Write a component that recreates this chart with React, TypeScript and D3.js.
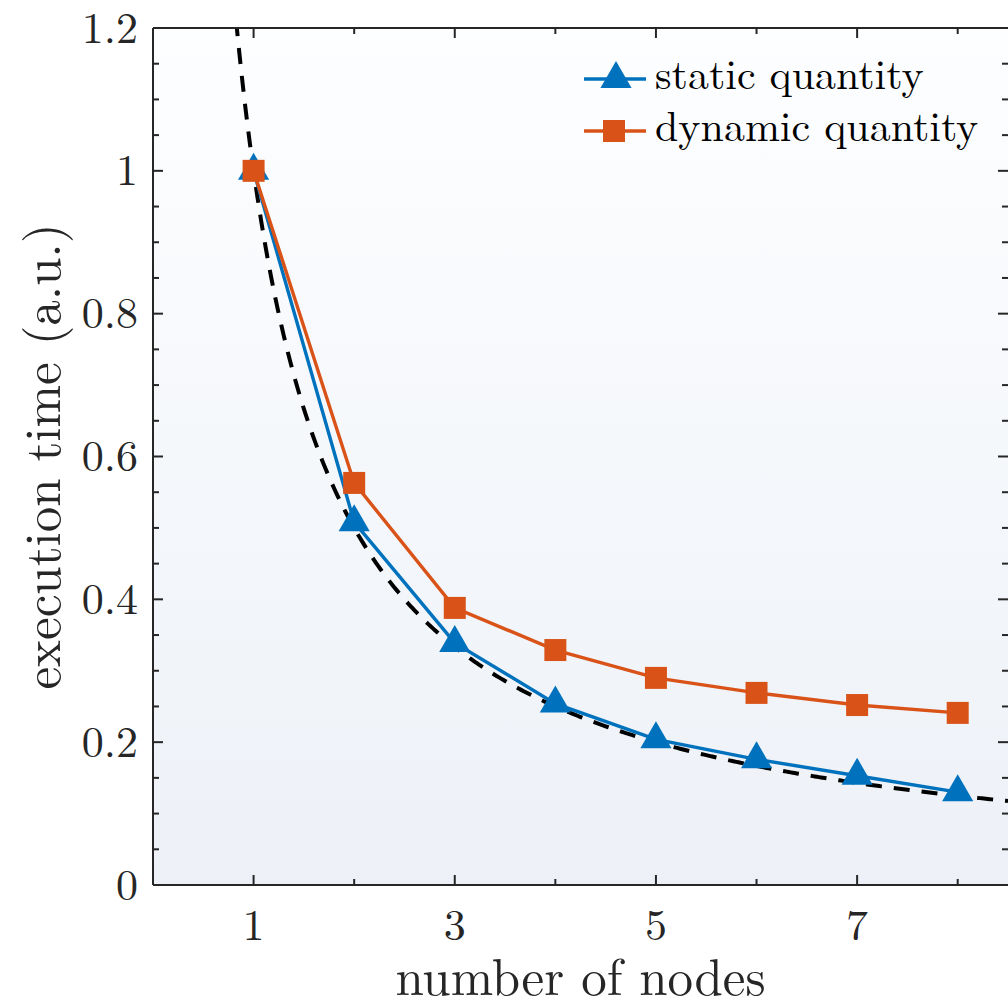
import React from "react";
import * as d3 from "d3";

const nodes = [1, 2, 3, 4, 5, 6, 7, 8];
const staticQuantity = [1.0, 0.508, 0.339, 0.254, 0.204, 0.176, 0.153, 0.13];
const dynamicQuantity = [1.0, 0.563, 0.388, 0.329, 0.29, 0.269, 0.252, 0.241];
const xTickLabels = [1, 3, 5, 7];
const xMinorTicks = [2, 4, 6, 8];
const yTickLabels = [0, 0.2, 0.4, 0.6, 0.8, 1, 1.2];
const seriesNames = ["static quantity", "dynamic quantity"];

const W = 1008;
const H = 1007;
const L = 153;
const T = 28;
const R = 1008;
const B = 885;
const FONT = "'Latin Modern Roman', 'CMU Serif', 'DejaVu Serif', serif";

export default function App() {
  const x = d3.scaleLinear().domain([0, 8.5]).range([L, R]);
  const y = d3.scaleLinear().domain([0, 1.2]).range([B, T]);
  const line = d3
    .line<[number, number]>()
    .x((d) => x(d[0]))
    .y((d) => y(d[1]));
  const sData = nodes.map((n, i) => [n, staticQuantity[i]] as [number, number]);
  const dData = nodes.map((n, i) => [n, dynamicQuantity[i]] as [number, number]);
  const ideal: [number, number][] = d3
    .range(0.8, 8.51, 0.02)
    .map((v) => [v, 1 / v] as [number, number]);
  const yMinor = d3.range(0, 1.2001, 0.05);
  const tri = d3.symbol().type(d3.symbolTriangle).size(420)();
  const ax = "#262626";
  const blue = "#0072BD";
  const orange = "#D95319";

  return (
    <svg
      width={W}
      height={H}
      style={{ position: "absolute", left: 0, top: 0, background: "#fff" }}
    >
      <defs>
        <linearGradient id="bg" x1="0" y1="0" x2="0" y2="1">
          <stop offset="0" stopColor="#fdfeff" />
          <stop offset="1" stopColor="#edf1f7" />
        </linearGradient>
        <clipPath id="clip">
          <rect x={L} y={T} width={R - L} height={B - T} />
        </clipPath>
      </defs>
      <rect x={L} y={T} width={R - L} height={B - T} fill="url(#bg)" />
      <g clipPath="url(#clip)">
        <path
          d={line(ideal) || ""}
          fill="none"
          stroke="#000"
          strokeWidth={4}
          strokeDasharray="16 12"
        />
        <path d={line(sData) || ""} fill="none" stroke={blue} strokeWidth={3.4} />
        <path d={line(dData) || ""} fill="none" stroke={orange} strokeWidth={3.4} />
        {sData.map((d, i) => (
          <path
            key={"s" + i}
            d={tri || ""}
            transform={`translate(${x(d[0])},${y(d[1])})`}
            fill={blue}
          />
        ))}
        {dData.map((d, i) => (
          <rect
            key={"d" + i}
            x={x(d[0]) - 11}
            y={y(d[1]) - 11}
            width={22}
            height={22}
            fill={orange}
          />
        ))}
      </g>
      {/* axes */}
      <line x1={L} y1={B} x2={R} y2={B} stroke={ax} strokeWidth={2} />
      <line x1={L} y1={T} x2={R} y2={T} stroke={ax} strokeWidth={2} />
      <line x1={L} y1={T} x2={L} y2={B} stroke={ax} strokeWidth={2} />
      {yMinor.map((v, i) => {
        const major = i % 4 === 0;
        const len = major ? 10 : 6;
        return (
          <g key={"ym" + i}>
            <line x1={L} x2={L + len} y1={y(v)} y2={y(v)} stroke={ax} strokeWidth={2} />
            <line x1={R} x2={R - len} y1={y(v)} y2={y(v)} stroke={ax} strokeWidth={2} />
          </g>
        );
      })}
      {xTickLabels.map((v) => (
        <g key={"xt" + v}>
          <line x1={x(v)} x2={x(v)} y1={B} y2={B - 10} stroke={ax} strokeWidth={2} />
          <line x1={x(v)} x2={x(v)} y1={T} y2={T + 10} stroke={ax} strokeWidth={2} />
        </g>
      ))}
      {xMinorTicks.map((v) => (
        <g key={"xm" + v}>
          <line x1={x(v)} x2={x(v)} y1={B} y2={B - 6} stroke={ax} strokeWidth={2} />
          <line x1={x(v)} x2={x(v)} y1={T} y2={T + 6} stroke={ax} strokeWidth={2} />
        </g>
      ))}
      {xTickLabels.map((v) => (
        <text
          key={"xl" + v}
          x={x(v)}
          y={940}
          textAnchor="middle"
          fontFamily={FONT}
          fontSize={44}
          fill={ax}
        >
          {v}
        </text>
      ))}
      {yTickLabels.map((v) => (
        <text
          key={"yl" + v}
          x={138}
          y={y(v) + 14.5}
          textAnchor="end"
          fontFamily={FONT}
          fontSize={44}
          fill={ax}
        >
          {String(v)}
        </text>
      ))}
      <text
        x={(L + R) / 2}
        y={995}
        textAnchor="middle"
        fontFamily={FONT}
        fontSize={51}
        fill={ax}
      >
        number of nodes
      </text>
      <text
        transform={`translate(60,${(T + B) / 2}) rotate(-90)`}
        textAnchor="middle"
        fontFamily={FONT}
        fontSize={51}
        fill={ax}
      >
        execution time (a.u.)
      </text>
      {/* legend */}
      <g>
        <line x1={584} x2={646} y1={79} y2={79} stroke={blue} strokeWidth={3.4} />
        <path d={tri || ""} transform="translate(616,79)" fill={blue} />
        <text x={655} y={89} fontFamily={FONT} fontSize={42} fill="#000">
          {seriesNames[0]}
        </text>
        <line x1={584} x2={646} y1={131} y2={131} stroke={orange} strokeWidth={3.4} />
        <rect x={603} y={120} width={22} height={22} fill={orange} />
        <text x={655} y={141} fontFamily={FONT} fontSize={42} fill="#000">
          {seriesNames[1]}
        </text>
      </g>
    </svg>
  );
}
